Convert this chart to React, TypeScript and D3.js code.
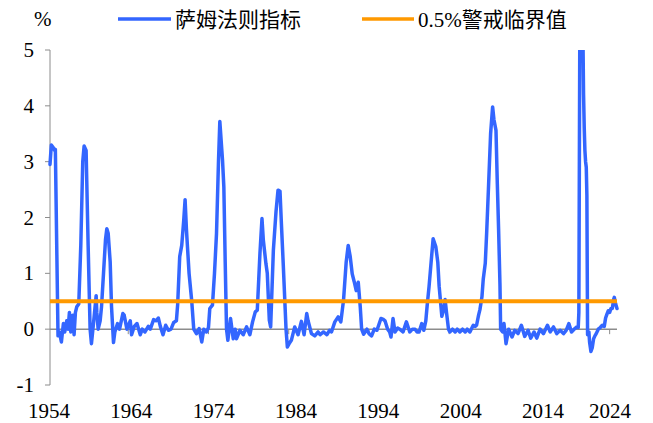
import React from "react";
import * as d3 from "d3";

const dates: string[] = [
  "1954-04","1954-06","1954-09","1954-11","1954-12","1955-02","1955-04","1955-06","1955-09","1955-12",
  "1956-02","1956-05","1956-07","1956-09","1956-11","1957-02","1957-04","1957-06","1957-08","1957-11",
  "1958-02","1958-05","1958-07","1958-10","1959-01","1959-04","1959-06","1959-09","1960-01","1960-02",
  "1960-04","1960-07","1960-09","1960-12","1961-03","1961-05","1961-07","1961-10","1961-12","1962-03",
  "1962-05","1962-09","1962-12","1963-05","1963-07","1963-11","1964-04","1964-06","1964-10","1965-02",
  "1965-07","1965-10","1966-02","1966-07","1966-10","1967-03","1967-07","1967-10","1968-01","1968-05",
  "1968-09","1969-01","1969-05","1969-09","1970-01","1970-03","1970-06","1970-09","1970-12","1971-02",
  "1971-04","1971-06","1971-08","1971-12","1972-03","1972-07","1972-11","1973-03","1973-06","1973-10",
  "1974-01","1974-03","1974-07","1974-10","1975-01","1975-04","1975-06","1975-10","1975-12","1976-02",
  "1976-04","1976-06","1976-10","1977-02","1977-05","1977-07","1977-12","1978-05","1978-10","1979-03",
  "1979-07","1979-11","1980-02","1980-06","1980-09","1980-11","1981-03","1981-05","1981-08","1981-10",
  "1982-02","1982-06","1982-09","1982-12","1983-02","1983-05","1983-09","1983-11","1984-02","1984-05",
  "1984-10","1985-03","1985-08","1985-12","1986-04","1986-06","1986-11","1987-04","1987-09","1987-12",
  "1988-05","1988-10","1989-02","1989-05","1989-10","1990-03","1990-07","1990-11","1991-03","1991-06",
  "1991-09","1991-12","1992-03","1992-06","1992-09","1992-12","1993-02","1993-05","1993-10","1994-01",
  "1994-05","1994-09","1995-01","1995-07","1995-10","1996-01","1996-05","1996-08","1996-10","1997-01",
  "1997-04","1997-08","1997-11","1998-04","1998-09","1999-02","1999-06","1999-10","2000-01","2000-04",
  "2000-08","2000-11","2001-02","2001-04","2001-07","2001-10","2002-01","2002-05","2002-08","2002-10",
  "2003-02","2003-05","2003-07","2003-09","2003-12","2004-02","2004-06","2004-10","2005-01","2005-05",
  "2005-09","2006-01","2006-04","2006-08","2007-01","2007-04","2007-06","2007-09","2007-11","2008-02",
  "2008-04","2008-07","2008-09","2008-12","2009-03","2009-06","2009-08","2009-11","2010-01","2010-03",
  "2010-05","2010-06","2010-09","2010-11","2011-02","2011-06","2011-11","2012-03","2012-08","2013-01",
  "2013-06","2013-11","2014-03","2014-08","2014-12","2015-05","2015-10","2016-04","2016-08","2017-01",
  "2017-06","2017-11","2018-04","2018-08","2018-12","2019-04","2019-09","2019-12","2020-02","2020-03",
  "2020-04","2020-05","2020-06","2020-07","2020-08","2020-09","2020-10","2020-11","2020-12","2021-01",
  "2021-02","2021-03","2021-04","2021-06","2021-07","2021-09","2021-11","2022-01","2022-03","2022-05",
  "2022-08","2022-11","2023-02","2023-05","2023-07","2023-09","2023-11","2024-01","2024-03","2024-05",
  "2024-07","2024-08","2024-10","2024-12",
];

const sahmValues: number[] = [
  2.95, 3.3, 3.25, 3.2, 3.22, 1.5, -0.12, -0.05, -0.23, 0.1,
  -0.05, 0.15, 0.0, 0.3, -0.05, 0.25, -0.1, 0.3, 0.4, 0.45,
  1.5, 3.0, 3.28, 3.2, 1.5, 0.0, -0.26, 0.1, 0.6, 0.3,
  0.0, 0.15, 0.4, 1.0, 1.6, 1.8, 1.72, 1.2, 0.4, -0.24,
  -0.05, 0.1, 0.0, 0.28, 0.25, 0.0, 0.15, -0.1, 0.05, 0.1,
  -0.1, 0.0, -0.05, 0.05, 0.0, 0.17, 0.15, 0.2, 0.05, -0.1,
  0.07, -0.02, 0.0, 0.12, 0.15, 0.45, 1.3, 1.5, 1.95, 2.32,
  1.8, 1.4, 1.0, 0.5, 0.0, -0.08, 0.01, -0.23, 0.0, -0.05,
  0.03, 0.37, 0.43, 1.0, 1.71, 3.0, 3.72, 3.03, 2.55, 1.2,
  0.0, -0.2, 0.19, -0.17, 0.0, -0.17, -0.02, -0.1, 0.04, -0.1,
  0.13, 0.31, 0.34, 1.36, 1.98, 1.6, 1.17, 1.0, 0.16, 0.04,
  1.41, 2.1, 2.49, 2.47, 1.9, 1.13, 0.0, -0.32, -0.25, -0.2,
  0.04, -0.1, 0.14, -0.1, 0.28, 0.15, -0.08, -0.12, -0.05, -0.1,
  -0.05, -0.1, -0.02, -0.05, 0.13, 0.22, 0.13, 0.52, 1.2, 1.5,
  1.3, 0.99, 0.85, 0.69, 0.84, 0.4, 0.0, -0.09, 0.0, -0.08,
  -0.12, 0.0, -0.02, 0.19, 0.18, 0.15, 0.0, -0.05, -0.14, 0.19,
  -0.05, 0.02, 0.0, -0.05, 0.13, -0.05, 0.0, 0.0, -0.05, -0.05,
  0.1, -0.02, 0.15, 0.41, 0.77, 1.2, 1.62, 1.48, 1.2, 0.77,
  0.23, 0.35, 0.53, 0.3, 0.0, -0.05, 0.0, -0.05, 0.0, -0.05,
  0.0, -0.05, 0.0, -0.05, 0.07, 0.05, 0.07, 0.25, 0.35, 0.58,
  0.9, 1.18, 1.71, 2.6, 3.5, 3.98, 3.75, 3.56, 2.6, 1.77,
  0.8, 0.0, -0.05, 0.1, -0.26, 0.0, -0.14, -0.02, -0.08, 0.07,
  -0.13, -0.02, -0.16, -0.05, -0.16, 0.0, -0.08, 0.07, -0.05, 0.04,
  -0.08, -0.02, -0.08, -0.02, 0.1, -0.05, 0.01, 0.04, 0.03, 0.3,
  4.0, 7.3, 9.5, 8.0, 6.4, 5.3, 4.2, 3.6, 3.2, 3.0,
  2.9, 2.4, -0.1, -0.05, -0.23, -0.4, -0.33, -0.17, -0.12, -0.08,
  0.0, 0.03, 0.07, 0.05, 0.2, 0.27, 0.33, 0.3, 0.37, 0.37,
  0.53, 0.57, 0.45, 0.37,
];

const thresholdValue = 0.5;
const yTicks: number[] = [-1, 0, 1, 2, 3, 4, 5];
const xTickYears: number[] = [1954, 1964, 1974, 1984, 1994, 2004, 2014, 2024];
const seriesNames: string[] = ["萨姆法则指标", "0.5%警戒临界值"];
const unitLabel = "%";

const W = 653;
const H = 423;
const BLUE = "#3366ff";
const ORANGE = "#ff9900";
const AXIS = "#8c8c8c";
const FONT = "'Liberation Serif', 'Times New Roman', 'Noto Sans CJK SC', serif";

type Pt = { date: Date; value: number };

export default function App() {
  const parse = d3.timeParse("%Y-%m");
  const data: Pt[] = dates.map((d, i) => ({ date: parse(d) as Date, value: sahmValues[i] }));
  const first = data[0].date;
  const last = data[data.length - 1].date;

  const x = d3.scaleTime().domain([first, last]).range([50, 617]);
  const y = d3.scaleLinear().domain([-1, 5]).range([385, 50]);

  const line = d3
    .line<Pt>()
    .x((d) => x(d.date))
    .y((d) => y(d.value));

  const labelScale = d3.scaleLinear().domain([1954, 2014]).range([49, 543]);
  const lastX = x(last);

  const y0 = y(0);
  const yTh = y(thresholdValue);

  return (
    <svg
      width={W}
      height={H}
      viewBox={`0 0 ${W} ${H}`}
      style={{ position: "absolute", left: 0, top: 0, display: "block", background: "#fff" }}
      fontFamily={FONT}
    >
      <defs>
        <clipPath id="plotClip">
          <rect x={40} y={y(5)} width={600} height={y(-1) - y(5)} />
        </clipPath>
      </defs>

      <text x={34} y={26} fontSize={21} fill="#000">
        {unitLabel}
      </text>

      <line x1={118} x2={171} y1={19} y2={19} stroke={BLUE} strokeWidth={3.5} />
      <text x={175} y={26.5} fontSize={21} fill="#000">
        {seriesNames[0]}
      </text>
      <line x1={362} x2={414} y1={19} y2={19} stroke={ORANGE} strokeWidth={3.5} />
      <text x={418} y={26.5} fontSize={21} fill="#000">
        {seriesNames[1]}
      </text>

      <line x1={50} x2={50} y1={y(5)} y2={y(-1)} stroke={AXIS} strokeWidth={1} />
      {yTicks.map((t) => (
        <g key={t}>
          <line x1={45} x2={50} y1={y(t)} y2={y(t)} stroke={AXIS} strokeWidth={1} />
          <text x={34} y={y(t) + 7} fontSize={21} textAnchor="end" fill="#000">
            {t}
          </text>
        </g>
      ))}

      <line x1={50} x2={lastX} y1={y0} y2={y0} stroke={AXIS} strokeWidth={1.5} />
      {xTickYears.map((yr) => {
        const tx = x(new Date(yr, 0, 1));
        if (tx < 50) return null;
        return <line key={yr} x1={tx} x2={tx} y1={y0} y2={y0 + 5} stroke={AXIS} strokeWidth={1} />;
      })}
      {xTickYears.map((yr) => (
        <text
          key={"l" + yr}
          x={Math.min(labelScale(yr), lastX - 7)}
          y={418}
          fontSize={21}
          textAnchor="middle"
          fill="#000"
        >
          {yr}
        </text>
      ))}

      <path
        d={line(data) || ""}
        fill="none"
        stroke={BLUE}
        strokeWidth={3.5}
        strokeLinejoin="round"
        strokeLinecap="round"
        clipPath="url(#plotClip)"
      />

      <line x1={50} x2={lastX} y1={yTh} y2={yTh} stroke={ORANGE} strokeWidth={4} />
    </svg>
  );
}
